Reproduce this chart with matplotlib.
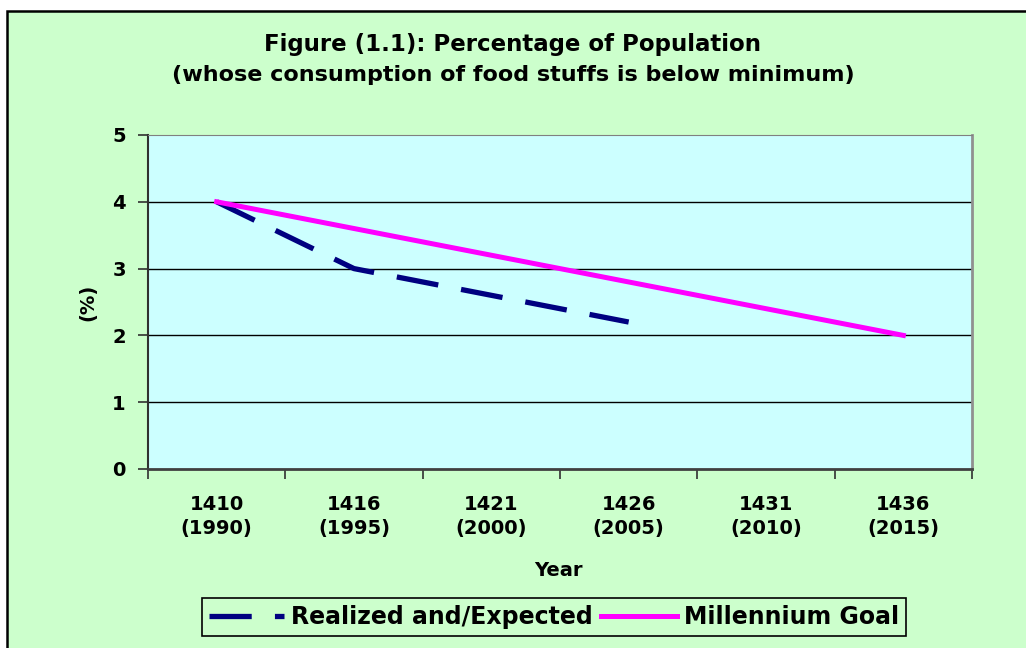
import matplotlib.pyplot as plt
from matplotlib.patches import Rectangle

# data
years = ['1410\n(1990)', '1416\n(1995)', '1421\n(2000)', '1426\n(2005)', '1431\n(2010)', '1436\n(2015)']
realized = [4.0, 3.0, 2.6, 2.2]
goal = [4.0, 3.6, 3.2, 2.8, 2.4, 2.0]

plt.rcParams['font.family'] = ['DejaVu Sans']
plt.rcParams['font.weight'] = 'bold'

W, H = 1026, 648
fig = plt.figure(figsize=(W / 100, H / 100), dpi=100)
fig.patch.set_facecolor('white')

# green chart area, border only top and left (rest runs off the picture)
fig.patches.append(Rectangle((7 / W, -0.05), 1.1, 1.05 - 11 / H, transform=fig.transFigure,
                             facecolor='#CCFFCC', edgecolor='black', linewidth=1.8, zorder=-10))

ax = fig.add_axes([148 / W, 1 - 469 / H, (972 - 148) / W, (469 - 135) / H])
ax.set_facecolor('#CCFFFF')

x_all = list(range(len(years)))
ax.plot(x_all[:len(realized)], realized, color='#000080', lw=3.8,
        linestyle=(0, (8, 4.4)), dash_capstyle='butt', label='Realized and/Expected', zorder=3)
ax.plot(x_all, goal, color='#FF00FF', lw=3.6, label='Millennium Goal', zorder=3)

ax.set_xlim(-0.5, len(years) - 0.5)
ax.set_ylim(0, 5)
ax.set_yticks(range(6))
ax.set_xticks(x_all)
ax.set_xticklabels(years, fontsize=14, fontweight='bold', linespacing=1.3)
ax.set_xticks([i - 0.5 for i in range(len(years) + 1)], minor=True)
ax.tick_params(axis='x', which='major', length=0, pad=19)
ax.tick_params(axis='x', which='minor', length=7, width=1.2, color='#303030')
ax.tick_params(axis='y', length=7, width=1.2, pad=9, labelsize=14, color='#303030')
for lab in ax.get_yticklabels():
    lab.set_fontweight('bold')

for yv in range(1, 5):
    ax.axhline(yv, color='black', lw=1, zorder=1)

ax.spines['top'].set_color('#808080')
ax.spines['right'].set_color('#909090')
ax.spines['right'].set_linewidth(2)
ax.spines['left'].set_color('#303030')
ax.spines['left'].set_linewidth(1.5)
ax.spines['bottom'].set_color('#404040')
ax.spines['bottom'].set_linewidth(2)

ax.set_xlabel('Year', fontsize=14, fontweight='bold', va='center')
ax.xaxis.set_label_coords(0.4985, (469 - 570) / 334)
ax.set_ylabel('(%)', fontsize=14, fontweight='bold', va='center')
ax.yaxis.set_label_coords((88 - 148) / 824, 0.5)

fig.text(0.5, 1 - 45 / H, 'Figure (1.1): Percentage of Population', ha='center', va='center',
         fontsize=16.5, fontweight='bold')
fig.text(0.5, 1 - 75 / H, '(whose consumption of food stuffs is below minimum)', ha='center',
         va='center', fontsize=16, fontweight='bold')

leg = fig.legend(loc='center', bbox_to_anchor=(554 / W, 1 - 617 / H), ncol=2,
                 prop={'size': 17, 'weight': 'bold'}, frameon=True, fancybox=False,
                 edgecolor='black', facecolor='#CCFFCC', framealpha=1,
                 handlelength=3.2, handletextpad=0.3, columnspacing=0.35, borderpad=0.3,
                 borderaxespad=0)
leg.get_frame().set_linewidth(1.2)

fig.savefig('out.png', dpi=100)
